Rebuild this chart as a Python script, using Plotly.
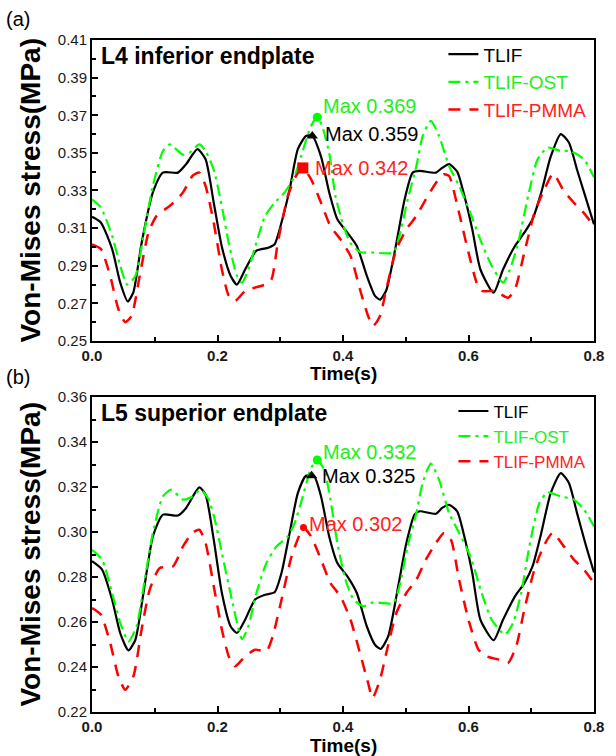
import plotly.graph_objects as go

# ---------------- data (time s, Von-Mises stress MPa) ----------------
L4_TLIF = [(0.000,0.316),(0.014,0.313),(0.032,0.299),(0.045,0.281),(0.057,0.271),(0.066,0.276),(0.079,0.302),(0.097,0.329),(0.113,0.3395),(0.137,0.3395),(0.150,0.344),(0.168,0.352),(0.181,0.3466),(0.194,0.3235),(0.207,0.300),(0.221,0.2846),(0.231,0.280),(0.244,0.288),(0.262,0.298),(0.281,0.2996),(0.291,0.3014),(0.302,0.313),(0.315,0.3306),(0.328,0.352),(0.341,0.359),(0.351,0.359),(0.365,0.348),(0.378,0.329),(0.391,0.3147),(0.407,0.3076),(0.422,0.3005),(0.438,0.2846),(0.451,0.274),(0.459,0.272),(0.469,0.277),(0.485,0.302),(0.498,0.325),(0.511,0.3395),(0.522,0.3404),(0.548,0.3395),(0.558,0.342),(0.569,0.344),(0.582,0.340),(0.592,0.329),(0.606,0.3094),(0.619,0.288),(0.640,0.2757),(0.655,0.288),(0.674,0.3005),(0.689,0.3076),(0.702,0.3147),(0.716,0.329),(0.731,0.348),(0.747,0.360),(0.760,0.3555),(0.773,0.341),(0.786,0.327),(0.800,0.312)]
L4_OST = [(0.000,0.3253),(0.014,0.321),(0.032,0.306),(0.045,0.290),(0.056,0.280),(0.069,0.2845),(0.082,0.306),(0.097,0.3324),(0.113,0.351),(0.124,0.3545),(0.145,0.349),(0.155,0.350),(0.171,0.3545),(0.181,0.351),(0.194,0.341),(0.205,0.325),(0.218,0.302),(0.231,0.2846),(0.239,0.281),(0.249,0.288),(0.260,0.300),(0.276,0.3165),(0.291,0.3235),(0.307,0.329),(0.323,0.3377),(0.333,0.348),(0.349,0.3643),(0.359,0.369),(0.367,0.364),(0.378,0.350),(0.388,0.327),(0.401,0.311),(0.412,0.302),(0.427,0.2973),(0.448,0.297),(0.480,0.297),(0.490,0.306),(0.503,0.325),(0.517,0.343),(0.527,0.359),(0.540,0.367),(0.553,0.359),(0.569,0.343),(0.585,0.3324),(0.603,0.318),(0.621,0.302),(0.637,0.290),(0.655,0.281),(0.666,0.288),(0.679,0.302),(0.695,0.327),(0.710,0.3465),(0.726,0.3528),(0.747,0.351),(0.763,0.351),(0.784,0.3466),(0.800,0.337)]
L4_PMMA = [(0.000,0.3014),(0.014,0.299),(0.029,0.2846),(0.042,0.267),(0.053,0.260),(0.063,0.2633),(0.076,0.2846),(0.090,0.3076),(0.103,0.3165),(0.124,0.3218),(0.145,0.329),(0.160,0.3377),(0.171,0.3395),(0.181,0.3324),(0.194,0.3129),(0.207,0.288),(0.218,0.274),(0.228,0.2713),(0.244,0.2766),(0.260,0.2784),(0.276,0.280),(0.286,0.2828),(0.296,0.302),(0.312,0.327),(0.325,0.3377),(0.336,0.342),(0.349,0.336),(0.365,0.3235),(0.380,0.311),(0.396,0.304),(0.412,0.2952),(0.427,0.2775),(0.440,0.2633),(0.448,0.258),(0.459,0.2633),(0.469,0.2775),(0.485,0.2987),(0.501,0.3094),(0.517,0.3165),(0.532,0.3253),(0.548,0.334),(0.561,0.3386),(0.569,0.3377),(0.585,0.318),(0.600,0.297),(0.613,0.281),(0.621,0.2766),(0.642,0.2766),(0.663,0.273),(0.674,0.2775),(0.689,0.297),(0.705,0.318),(0.721,0.3306),(0.735,0.339),(0.752,0.3297),(0.768,0.3235),(0.784,0.318),(0.800,0.311)]

L5_TLIF = [(0.000,0.287),(0.016,0.2833),(0.032,0.270),(0.045,0.255),(0.058,0.2474),(0.069,0.252),(0.082,0.2729),(0.097,0.298),(0.113,0.3077),(0.137,0.3073),(0.150,0.3107),(0.171,0.3198),(0.181,0.3166),(0.194,0.2966),(0.207,0.2729),(0.221,0.258),(0.231,0.2551),(0.244,0.261),(0.260,0.270),(0.276,0.2721),(0.291,0.2732),(0.302,0.2818),(0.315,0.2996),(0.328,0.3173),(0.341,0.325),(0.354,0.3247),(0.365,0.3158),(0.378,0.298),(0.391,0.2862),(0.407,0.2803),(0.422,0.2729),(0.438,0.258),(0.451,0.2499),(0.460,0.248),(0.472,0.2536),(0.488,0.2759),(0.501,0.2951),(0.514,0.3077),(0.522,0.3092),(0.548,0.3081),(0.558,0.3107),(0.569,0.3121),(0.582,0.3092),(0.592,0.2996),(0.606,0.2818),(0.619,0.261),(0.640,0.2519),(0.655,0.261),(0.674,0.2714),(0.689,0.2773),(0.702,0.2847),(0.716,0.2996),(0.731,0.3173),(0.747,0.3262),(0.760,0.3218),(0.773,0.3084),(0.786,0.2951),(0.800,0.282)]
L5_OST = [(0.000,0.2921),(0.016,0.2877),(0.032,0.2729),(0.045,0.2596),(0.058,0.2514),(0.071,0.258),(0.084,0.2788),(0.097,0.2996),(0.113,0.3158),(0.126,0.3188),(0.145,0.3144),(0.160,0.3158),(0.173,0.3188),(0.186,0.3144),(0.197,0.304),(0.207,0.2907),(0.223,0.2699),(0.239,0.2524),(0.249,0.258),(0.262,0.2729),(0.278,0.2862),(0.294,0.2936),(0.312,0.298),(0.323,0.304),(0.336,0.3158),(0.349,0.3284),(0.359,0.332),(0.370,0.3277),(0.380,0.3144),(0.391,0.2951),(0.404,0.2788),(0.417,0.2699),(0.433,0.267),(0.448,0.2687),(0.480,0.2684),(0.490,0.2759),(0.503,0.2936),(0.517,0.3084),(0.527,0.3218),(0.540,0.3304),(0.553,0.3233),(0.569,0.3084),(0.585,0.2996),(0.603,0.2892),(0.621,0.2729),(0.637,0.261),(0.658,0.2544),(0.671,0.2596),(0.684,0.2729),(0.697,0.2936),(0.713,0.3129),(0.726,0.3176),(0.747,0.3158),(0.768,0.3144),(0.784,0.310),(0.800,0.3025)]
L5_PMMA = [(0.000,0.2662),(0.014,0.2633),(0.029,0.2507),(0.042,0.2359),(0.053,0.2299),(0.066,0.2359),(0.079,0.2566),(0.092,0.2744),(0.108,0.284),(0.129,0.2847),(0.145,0.2936),(0.160,0.2996),(0.171,0.301),(0.181,0.2951),(0.194,0.2759),(0.207,0.2566),(0.218,0.2447),(0.228,0.2403),(0.244,0.2447),(0.260,0.2477),(0.278,0.247),(0.288,0.2536),(0.302,0.2699),(0.318,0.2892),(0.332,0.2996),(0.337,0.302),(0.349,0.2981),(0.365,0.2877),(0.380,0.2773),(0.396,0.2714),(0.412,0.261),(0.427,0.2462),(0.440,0.2329),(0.447,0.2262),(0.459,0.2344),(0.469,0.2462),(0.485,0.264),(0.501,0.2729),(0.517,0.2788),(0.532,0.2877),(0.548,0.2951),(0.561,0.2996),(0.572,0.2966),(0.585,0.2788),(0.600,0.261),(0.616,0.2477),(0.629,0.2447),(0.648,0.2433),(0.663,0.2418),(0.676,0.2492),(0.689,0.2655),(0.705,0.2833),(0.721,0.2944),(0.734,0.2996),(0.752,0.2936),(0.768,0.2877),(0.784,0.2833),(0.800,0.2773)]

# maximum markers (time, value) per series
L4_MAX = {"TLIF": (0.351, 0.359), "TLIF-OST": (0.359, 0.369), "TLIF-PMMA": (0.336, 0.342)}
L5_MAX = {"TLIF": (0.350, 0.325), "TLIF-OST": (0.359, 0.332), "TLIF-PMMA": (0.337, 0.302)}

SERIES = ["TLIF", "TLIF-OST", "TLIF-PMMA"]
PANEL_TITLES = ["L4 inferior endplate", "L5 superior endplate"]
Y_RANGES = [(0.25, 0.41), (0.22, 0.36)]

# ---------------- styles ----------------
FONT = "Liberation Sans, Arial, sans-serif"
COLORS = {"TLIF": "#000000", "TLIF-OST": "#00FF00", "TLIF-PMMA": "#FF0000"}
TEXT_COLORS = {"TLIF": "#000000", "TLIF-OST": "#22EE22", "TLIF-PMMA": "#FF2222"}
DASH = {"TLIF": "solid", "TLIF-OST": "12px,5px,3px,5px", "TLIF-PMMA": "12px,9px"}
WIDTH = {"TLIF": 2.2, "TLIF-OST": 2.2, "TLIF-PMMA": 2.5}
MARKER_SYM = [{"TLIF": "triangle-up", "TLIF-OST": "circle", "TLIF-PMMA": "square"},
              {"TLIF": "triangle-up", "TLIF-OST": "circle", "TLIF-PMMA": "circle"}]
MARKER_SIZE = [{"TLIF": 10, "TLIF-OST": 9, "TLIF-PMMA": 11},
               {"TLIF": 10, "TLIF-OST": 9, "TLIF-PMMA": 7}]
LABEL_SHIFT = [{"TLIF": (11, 2), "TLIF-OST": (4, 11), "TLIF-PMMA": (10, 0)},
               {"TLIF": (8, 0), "TLIF-OST": (4, 8), "TLIF-PMMA": (4, 4)}]
LEGEND_FONT = [19, 17]

panels = [
    {"TLIF": L4_TLIF, "TLIF-OST": L4_OST, "TLIF-PMMA": L4_PMMA},
    {"TLIF": L5_TLIF, "TLIF-OST": L5_OST, "TLIF-PMMA": L5_PMMA},
]
maxima = [L4_MAX, L5_MAX]

fig = go.Figure()
annotations = []

for i, pdata in enumerate(panels):
    xa = "x" if i == 0 else "x2"
    ya = "y" if i == 0 else "y2"
    leg = "legend" if i == 0 else "legend2"
    for s in SERIES:
        pts = pdata[s]
        fig.add_trace(go.Scatter(
            x=[p[0] for p in pts], y=[p[1] for p in pts], mode="lines",
            name=f'<span style="color:{TEXT_COLORS[s]}">{s}</span>',
            line=dict(color=COLORS[s], width=WIDTH[s], dash=DASH[s], shape="spline", smoothing=0.6),
            xaxis=xa, yaxis=ya, legend=leg, showlegend=True,
        ))
    for s in SERIES:
        mx, my = maxima[i][s]
        fig.add_trace(go.Scatter(
            x=[mx], y=[my], mode="markers", showlegend=False,
            marker=dict(symbol=MARKER_SYM[i][s], size=MARKER_SIZE[i][s], color=COLORS[s]),
            xaxis=xa, yaxis=ya,
        ))
        dx, dy = LABEL_SHIFT[i][s]
        annotations.append(dict(
            x=mx, y=my, xref=xa, yref=ya, text=f"Max {my:.3f}", showarrow=False,
            xanchor="left", yanchor="middle", xshift=dx, yshift=dy,
            font=dict(family=FONT, size=20, color=TEXT_COLORS[s]),
        ))
    # panel title inside the plot
    annotations.append(dict(
        x=0, y=1, xref=f"{xa} domain", yref=f"{ya} domain", text=f"<b>{PANEL_TITLES[i]}</b>",
        showarrow=False, xanchor="left", yanchor="middle", xshift=7, yshift=-16,
        font=dict(family=FONT, size=23, color="#000000"),
    ))
    # y axis title
    annotations.append(dict(
        x=0, y=0.5, xref=f"{xa} domain", yref=f"{ya} domain", text="<b>Von-Mises stress(MPa)</b>",
        showarrow=False, textangle=-90, xanchor="center", yanchor="middle", xshift=-62,
        font=dict(family=FONT, size=28, color="#000000"),
    ))
    # x axis title
    annotations.append(dict(
        x=0.5, y=0, xref=f"{xa} domain", yref=f"{ya} domain", text="<b>Time(s)</b>",
        showarrow=False, xanchor="center", yanchor="middle", yshift=-33,
        font=dict(family=FONT, size=19, color="#000000"),
    ))

# panel letters
annotations.append(dict(x=0, y=1, xref="paper", yref="paper", text="(a)", showarrow=False,
                        xanchor="left", yanchor="middle", xshift=-88, yshift=21,
                        font=dict(family=FONT, size=20, color="#000000")))
annotations.append(dict(x=0, y=0.46875, xref="paper", yref="paper", text="(b)", showarrow=False,
                        xanchor="left", yanchor="middle", xshift=-88, yshift=20,
                        font=dict(family=FONT, size=20, color="#000000")))

axis_common = dict(showline=True, linecolor="#000000", linewidth=2, mirror=True,
                   ticks="inside", ticklen=6, tickwidth=1.5, tickcolor="#000000",
                   showgrid=False, zeroline=False)
xaxis_common = dict(axis_common, range=[0, 0.8], tick0=0, dtick=0.2, tickformat=".1f",
                    minor=dict(dtick=0.1, ticks="inside", ticklen=4, tickcolor="#000000"),
                    tickfont=dict(family=FONT, size=15, color="#1a1a1a"))

fig.update_layout(
    width=616, height=756, paper_bgcolor="white", plot_bgcolor="white",
    margin=dict(l=92, r=15, t=40, b=44),
    xaxis=dict(xaxis_common, domain=[0, 1], anchor="y", tickprefix="<b>", ticksuffix="</b>"),
    xaxis2=dict(xaxis_common, domain=[0, 1], anchor="y2", tickprefix="<b>", ticksuffix="</b>"),
    yaxis=dict(axis_common, domain=[0.5521, 1.0], anchor="x", range=list(Y_RANGES[0]),
               tick0=0.25, dtick=0.02, tickformat=".2f",
               minor=dict(dtick=0.01, ticks="inside", ticklen=4, tickcolor="#000000"),
               tickfont=dict(family=FONT, size=15, color="#1a1a1a")),
    yaxis2=dict(axis_common, domain=[0, 0.46875], anchor="x2", range=list(Y_RANGES[1]),
                tick0=0.22, dtick=0.02, tickformat=".2f",
                minor=dict(dtick=0.01, ticks="inside", ticklen=4, tickcolor="#000000"),
                tickfont=dict(family=FONT, size=15, color="#1a1a1a")),
    legend=dict(x=0.70, y=1.007, xanchor="left", yanchor="top", bgcolor="rgba(0,0,0,0)",
                font=dict(family=FONT, size=LEGEND_FONT[0]), tracegroupgap=0),
    legend2=dict(x=0.72, y=0.474, xanchor="left", yanchor="top", bgcolor="rgba(0,0,0,0)",
                 font=dict(family=FONT, size=LEGEND_FONT[1]), tracegroupgap=0),
    annotations=annotations,
    showlegend=True,
)

fig.write_html("out.html")
